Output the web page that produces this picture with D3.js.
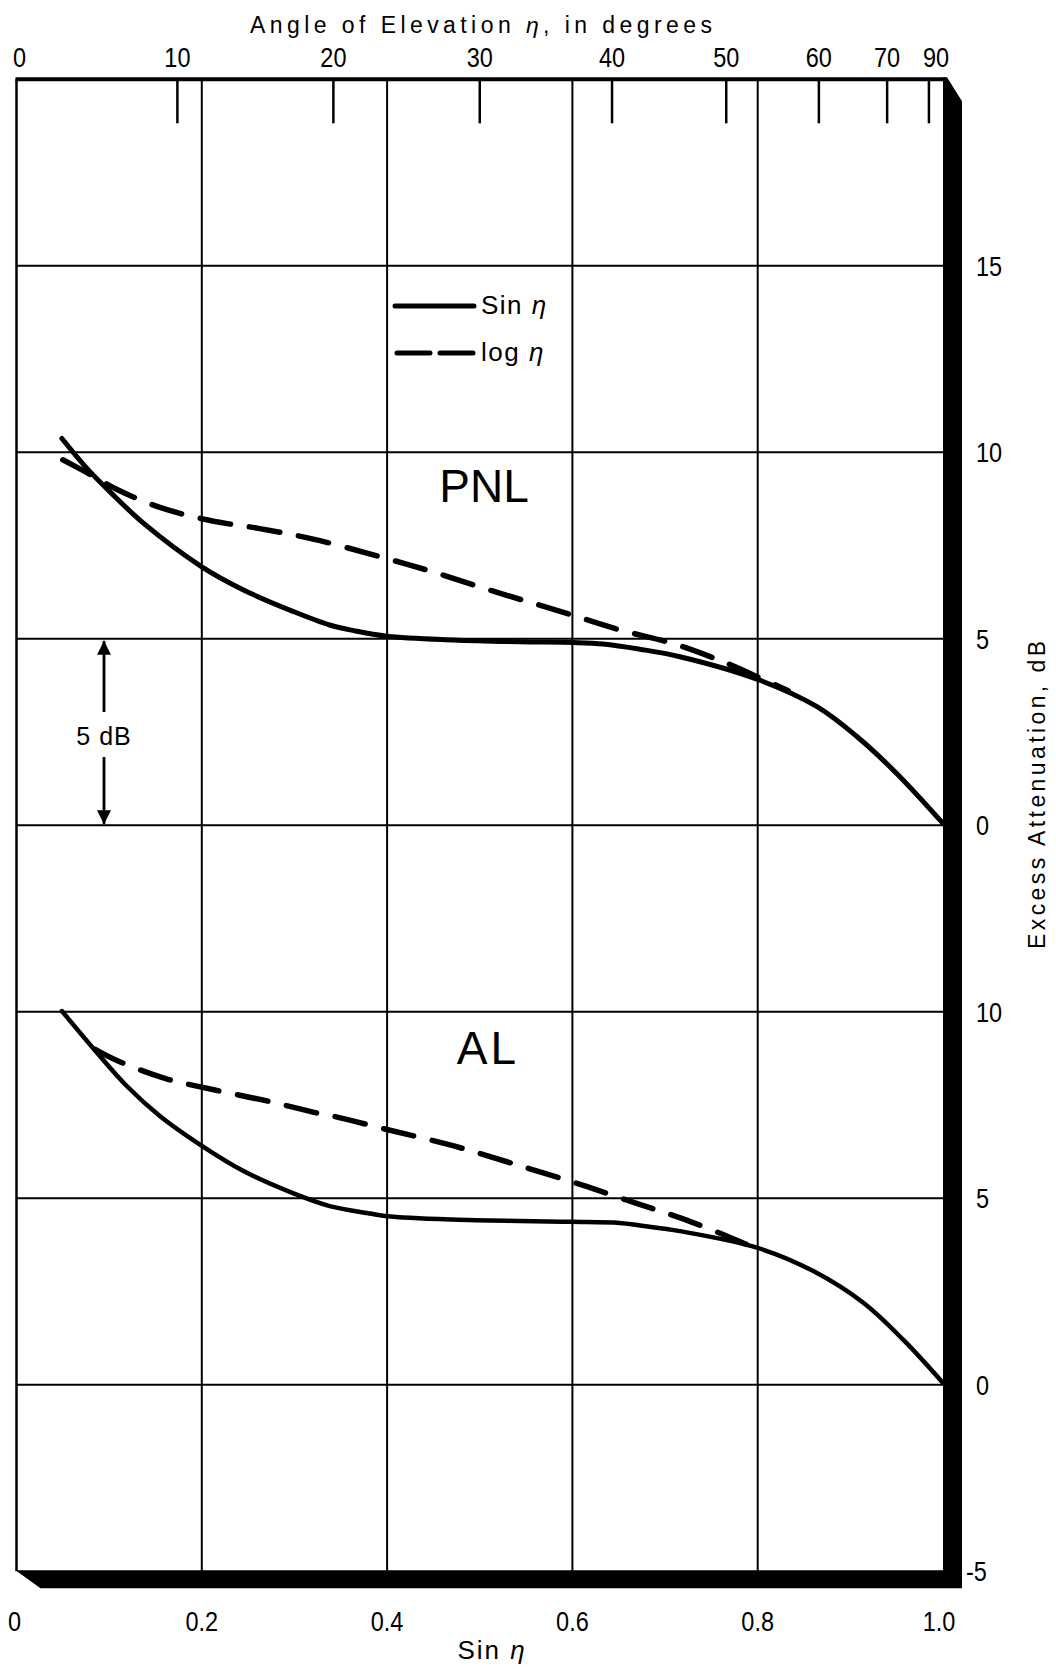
<!DOCTYPE html>
<html>
<head>
<meta charset="utf-8">
<script src="https://cdn.jsdelivr.net/npm/d3@7"></script>
<style>
  body { margin: 0; background: #fff; }
  svg { display: block; }
  .tick-label { font-family: "Liberation Sans", Arial, sans-serif; font-size: 28px; fill: #000; }
  .title { font-family: "Liberation Sans", Arial, sans-serif; font-size: 23px; fill: #000; }
  .big { font-family: "Liberation Sans", Arial, sans-serif; font-size: 46px; fill: #000; }
  .grid line { stroke: #000; stroke-width: 2; }
</style>
</head>
<body>
<svg width="1056" height="1672"></svg>
<script>
// sin(eta) axis
const sinTicks = [0, 0.2, 0.4, 0.6, 0.8, 1.0];
// angle of elevation (degrees) on top
const degTicks = [10, 20, 30, 40, 50, 60, 70, 80];
const degLabels = [0, 10, 20, 30, 40, 50, 60, 70, 90];
// dB ticks of each panel
const upperTicks = [0, 5, 10, 15];
const lowerTicks = [-5, 0, 5, 10];
const upperOffset = 15;

// PNL, sin eta (solid)
const pnlSin = [[0.049, 10.37], [0.076, 9.57], [0.101, 8.94], [0.137, 8.10], [0.200, 6.93],
  [0.245, 6.31], [0.299, 5.73], [0.338, 5.37], [0.364, 5.22], [0.400, 5.07], [0.471, 4.97],
  [0.543, 4.92], [0.601, 4.90], [0.633, 4.86], [0.673, 4.72], [0.716, 4.52], [0.800, 3.91],
  [0.864, 3.18], [0.907, 2.38], [0.950, 1.39], [1.0, 0.05]];
// PNL, log eta (dashed)
const pnlLog = [[0.050, 9.80], [0.074, 9.48], [0.108, 9.01], [0.154, 8.53], [0.209, 8.17],
  [0.261, 7.96], [0.319, 7.68], [0.388, 7.23], [0.450, 6.79], [0.518, 6.25], [0.585, 5.75],
  [0.651, 5.24], [0.709, 4.87], [0.763, 4.38], [0.812, 3.84], [0.833, 3.61]];
// AL, sin eta (solid)
const alSin = [[0.049, 10.02], [0.087, 8.90], [0.119, 8.01], [0.155, 7.20], [0.198, 6.44],
  [0.245, 5.73], [0.299, 5.13], [0.338, 4.79], [0.382, 4.59], [0.400, 4.52], [0.471, 4.43],
  [0.543, 4.39], [0.599, 4.37], [0.651, 4.34], [0.673, 4.27], [0.716, 4.12], [0.800, 3.67],
  [0.860, 3.05], [0.914, 2.20], [0.957, 1.21], [1.0, 0.05]];
// AL, log eta (dashed)
const alLog = [[0.085, 8.99], [0.106, 8.72], [0.161, 8.21], [0.213, 7.91], [0.272, 7.60],
  [0.324, 7.29], [0.344, 7.19], [0.402, 6.83], [0.471, 6.41], [0.545, 5.86], [0.610, 5.36],
  [0.659, 4.95], [0.675, 4.82], [0.728, 4.37], [0.780, 3.85], [0.800, 3.63]];

const svg = d3.select('svg');

const x = d3.scaleLinear().domain([0, 1]).range([16.5, 943]);
// both panels share one scale, upper panel shifted by 15 dB
const y = d3.scaleLinear().domain([-5, 35]).range([1571.3, 79.3]);
const yTop = y(35), yBot = y(-5);
const x0 = x(0), x1 = x(1);

const rad = (d) => d * Math.PI / 180;
// squeeze labels a bit, the original face is condensed
const narrow = (px, py) => `translate(${px},${py}) scale(0.84,1)`;

// grid
const grid = svg.append('g').attr('class', 'grid');
grid.selectAll('.v')
  .data(sinTicks.filter((d) => d > 0 && d < 1))
  .enter().append('line')
  .attr('x1', (d) => x(d)).attr('x2', (d) => x(d))
  .attr('y1', yTop).attr('y2', yBot);
grid.selectAll('.h')
  .data(d3.range(0, 35, 5))
  .enter().append('line')
  .attr('x1', x0).attr('x2', x1)
  .attr('y1', (d) => y(d)).attr('y2', (d) => y(d));

// frame: thin left edge, heavy top, thick right / bottom with bevels
svg.append('line')
  .attr('x1', x0).attr('x2', x0).attr('y1', yTop).attr('y2', yBot)
  .attr('stroke', '#000').attr('stroke-width', 2.5);
svg.append('line')
  .attr('x1', x0 - 1).attr('x2', x1 + 2).attr('y1', yTop).attr('y2', yTop)
  .attr('stroke', '#000').attr('stroke-width', 4);
svg.append('path')
  .attr('d', d3.line()([
    [x1, yTop - 2], [x1 + 4, yTop - 2], [x1 + 19, yTop + 22], [x1 + 19, yBot + 17],
    [x0 + 24, yBot + 17], [x0 - 1, yBot - 1], [x1, yBot - 1]
  ]) + 'Z')
  .attr('fill', '#000');

// top ticks (degrees)
svg.selectAll('.degtick')
  .data(degTicks)
  .enter().append('line')
  .attr('x1', (d) => x(Math.sin(rad(d)))).attr('x2', (d) => x(Math.sin(rad(d))))
  .attr('y1', yTop).attr('y2', yTop + 44)
  .attr('stroke', '#000').attr('stroke-width', 2.5);

svg.selectAll('.deglabel')
  .data(degLabels)
  .enter().append('text')
  .attr('class', 'tick-label')
  .attr('transform', (d) => narrow(x(Math.sin(rad(d))) + (d === 0 ? 3 : d === 90 ? -7 : 0), 67))
  .attr('text-anchor', 'middle')
  .text((d) => d);

const topTitle = svg.append('text')
  .attr('class', 'title')
  .attr('x', 481).attr('y', 33)
  .attr('text-anchor', 'middle')
  .attr('textLength', 462).attr('lengthAdjust', 'spacing');
topTitle.append('tspan').text('Angle of Elevation ');
topTitle.append('tspan').attr('font-style', 'italic').text('η');
topTitle.append('tspan').text(', in degrees');

// bottom labels (sin eta)
svg.selectAll('.sinlabel')
  .data(sinTicks)
  .enter().append('text')
  .attr('class', 'tick-label')
  .attr('transform', (d) => narrow(x(d) + (d === 0 ? -2 : d === 1 ? -4 : 0), 1631))
  .attr('text-anchor', 'middle')
  .text((d) => d === 0 ? '0' : d.toFixed(1));

const botTitle = svg.append('text')
  .attr('class', 'title')
  .style('font-size', '26px').style('letter-spacing', '2px')
  .attr('x', 492).attr('y', 1659)
  .attr('text-anchor', 'middle');
botTitle.append('tspan').text('Sin ');
botTitle.append('tspan').attr('font-style', 'italic').text('η');

// right labels (dB)
const rightTicks = upperTicks.map((d) => ({ v: d + upperOffset, t: d }))
  .concat(lowerTicks.map((d) => ({ v: d, t: d })));
svg.selectAll('.dblabel')
  .data(rightTicks)
  .enter().append('text')
  .attr('class', 'tick-label')
  .attr('transform', (d) => narrow(d.t < 0 ? 966 : 976, y(d.v) + 10))
  .text((d) => d.t < 0 ? '-' + Math.abs(d.t) : d.t);

svg.append('text')
  .attr('class', 'title')
  .attr('transform', 'translate(1045, 795) rotate(-90)')
  .attr('text-anchor', 'middle')
  .attr('textLength', 308).attr('lengthAdjust', 'spacing')
  .text('Excess Attenuation,  dB');

// curves
const line = (off) => d3.line()
  .x((d) => x(d[0]))
  .y((d) => y(d[1] + off))
  .curve(d3.curveCatmullRom.alpha(0.5));

const series = [
  { data: pnlSin, off: upperOffset, dash: null, w: 5 },
  { data: pnlLog, off: upperOffset, dash: '31 19', w: 5.5 },
  { data: alSin, off: 0, dash: null, w: 4.5 },
  { data: alLog, off: 0, dash: '31 19', w: 5.5 }
];
svg.selectAll('.curve')
  .data(series)
  .enter().append('path')
  .attr('d', (s) => line(s.off)(s.data))
  .attr('fill', 'none')
  .attr('stroke', '#000')
  .attr('stroke-width', (s) => s.w)
  .attr('stroke-linecap', 'round')
  .attr('stroke-dasharray', (s) => s.dash);

// panel names
svg.append('text').attr('class', 'big')
  .attr('x', 484).attr('y', 502).attr('text-anchor', 'middle').text('PNL');
svg.append('text').attr('class', 'big').style('letter-spacing', '3px')
  .attr('x', 488).attr('y', 1064).attr('text-anchor', 'middle').text('AL');

// legend
const legend = svg.append('g');
legend.append('line')
  .attr('x1', 395).attr('x2', 474).attr('y1', 306).attr('y2', 306)
  .attr('stroke', '#000').attr('stroke-width', 5).attr('stroke-linecap', 'round');
legend.append('line')
  .attr('x1', 397).attr('x2', 474).attr('y1', 353).attr('y2', 353)
  .attr('stroke', '#000').attr('stroke-width', 5).attr('stroke-linecap', 'round')
  .attr('stroke-dasharray', '33 10');
const l1 = legend.append('text').attr('class', 'title')
  .style('font-size', '26px').style('letter-spacing', '1.5px')
  .attr('x', 481).attr('y', 314);
l1.append('tspan').text('Sin ');
l1.append('tspan').attr('font-style', 'italic').text('η');
const l2 = legend.append('text').attr('class', 'title')
  .style('font-size', '26px').style('letter-spacing', '1.5px')
  .attr('x', 481).attr('y', 361);
l2.append('tspan').text('log ');
l2.append('tspan').attr('font-style', 'italic').text('η');

// 5 dB bracket
svg.append('defs').append('marker')
  .attr('id', 'arrow')
  .attr('viewBox', '0 0 10 10')
  .attr('refX', 10).attr('refY', 5)
  .attr('markerWidth', 5).attr('markerHeight', 5)
  .attr('markerUnits', 'strokeWidth')
  .attr('orient', 'auto')
  .append('path').attr('d', 'M0,0L10,5L0,10Z').attr('fill', '#000');

const ax = 104;
svg.append('line')
  .attr('x1', ax).attr('x2', ax).attr('y1', 712).attr('y2', y(5 + upperOffset) + 2)
  .attr('stroke', '#000').attr('stroke-width', 2.8).attr('marker-end', 'url(#arrow)');
svg.append('line')
  .attr('x1', ax).attr('x2', ax).attr('y1', 757).attr('y2', y(upperOffset) - 1)
  .attr('stroke', '#000').attr('stroke-width', 2.8).attr('marker-end', 'url(#arrow)');
svg.append('text').attr('class', 'title')
  .style('font-size', '25px').style('letter-spacing', '1px')
  .attr('x', ax).attr('y', 745).attr('text-anchor', 'middle').text('5 dB');
</script>
</body>
</html>
